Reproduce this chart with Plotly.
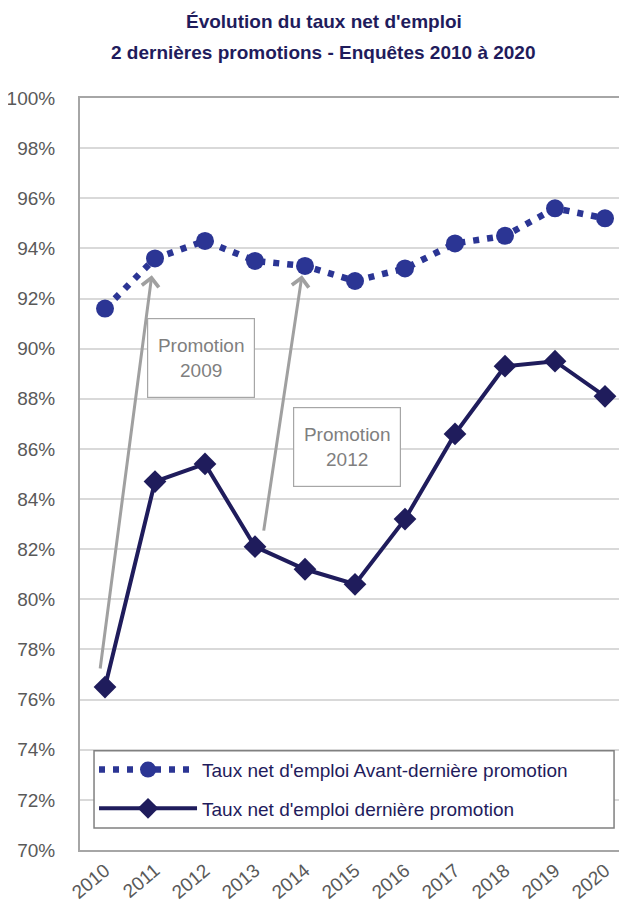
# -*- coding: utf-8 -*-

import plotly.graph_objects as go

##################################################
# data
##################################################

years = [2010, 2011, 2012, 2013, 2014, 2015, 2016, 2017, 2018, 2019, 2020]
avant_derniere = [91.6, 93.6, 94.3, 93.5, 93.3, 92.7, 93.2, 94.2, 94.5, 95.6, 95.2]
derniere = [76.5, 84.7, 85.4, 82.1, 81.2, 80.6, 83.2, 86.6, 89.3, 89.5, 88.1]

name_avant = "Taux net d'emploi Avant-dernière promotion"
name_derniere = "Taux net d'emploi dernière promotion"

title_lines = ["Évolution du taux net d'emploi",
               "2 dernières promotions - Enquêtes 2010 à 2020"]

FONT = "Liberation Sans, Arial, sans-serif"
NAVY = '#1f1c5c'
BLUE = '#2b3594'
GREY_TXT = '#595959'
GREY_ARROW = '#a0a0a0'

##################################################
# figure
##################################################

fig = go.Figure()

fig.add_trace(go.Scatter(
    x=years, y=avant_derniere, name=name_avant, mode='lines+markers',
    legendgroup='a',
    line={'color': BLUE, 'width': 6.5, 'dash': '6px,8px'},
    marker={'symbol': 'circle', 'size': 18, 'color': BLUE},
))

fig.add_trace(go.Scatter(
    x=years, y=derniere, name=name_derniere, mode='lines+markers',
    legendgroup='b',
    line={'color': NAVY, 'width': 4},
    marker={'symbol': 'diamond', 'size': 17.5, 'color': NAVY},
))

# arrows from the last promotion point to the next year's "avant-derniere" point
arrows = [
    {'x': 2010.936, 'y': 92.93, 'ax': 2009.90, 'ay': 77.18},
    {'x': 2013.94, 'y': 92.93, 'ax': 2013.17, 'ay': 82.68},
]
for a in arrows:
    fig.add_annotation(
        x=a['x'], y=a['y'], ax=a['ax'], ay=a['ay'],
        xref='x', yref='y', axref='x', ayref='y',
        text='', showarrow=True, arrowhead=4, arrowsize=1.1,
        arrowwidth=3, arrowcolor=GREY_ARROW,
    )

# label boxes
boxes = [
    {'x': 2011.91, 'y': 89.63, 'text': 'Promotion<br>2009'},
    {'x': 2014.84, 'y': 86.08, 'text': 'Promotion<br>2012'},
]
for b in boxes:
    fig.add_annotation(
        x=b['x'], y=b['y'], xref='x', yref='y', text=b['text'],
        showarrow=False, width=104, height=76, bgcolor='white',
        bordercolor='#a6a6a6', borderwidth=1.2,
        font={'family': FONT, 'size': 19, 'color': '#7f7f7f'},
    )

# two-line title
for txt, ypos in zip(title_lines, [1.1017, 1.0605]):
    fig.add_annotation(
        x=0.4436, y=ypos, xref='paper', yref='paper', text='<b>' + txt + '</b>',
        showarrow=False, xanchor='center', yanchor='middle',
        font={'family': FONT, 'size': 19, 'color': NAVY},
    )

# legend frame (wider than plotly's own legend box)
fig.add_shape(
    type='rect', xref='paper', yref='paper',
    x0=0.0255, x1=0.971, y0=0.0292, y1=0.132,
    line={'color': '#808080', 'width': 1.5}, fillcolor='white', layer='above',
)

fig.update_layout(
    width=627, height=907,
    margin={'l': 72, 'r': 5, 't': 89.5, 'b': 65},
    plot_bgcolor='white', paper_bgcolor='white',
    font={'family': FONT, 'color': GREY_TXT, 'size': 18},
    xaxis={
        'range': [2009.5, 2020.5], 'tickvals': years, 'tickangle': -40,
        'showgrid': False, 'showline': True, 'linecolor': '#a6a6a6',
        'linewidth': 2, 'mirror': True, 'zeroline': False, 'automargin': False,
        'tickfont': {'size': 19, 'color': GREY_TXT},
    },
    yaxis={
        'range': [70, 100], 'dtick': 2, 'ticksuffix': '%',
        'showgrid': True, 'gridcolor': '#d9d9d9', 'gridwidth': 1.5,
        'showline': True, 'linecolor': '#a6a6a6', 'linewidth': 2,
        'zeroline': False, 'ticks': '', 'automargin': False,
        'ticklabelstandoff': 19,
        'tickfont': {'size': 19, 'color': GREY_TXT},
    },
    legend={
        'x': 0.0255, 'y': 0.132, 'xanchor': 'left', 'yanchor': 'top',
        'bgcolor': 'rgba(0,0,0,0)', 'borderwidth': 0,
        'font': {'family': FONT, 'size': 19, 'color': NAVY},
        'itemwidth': 98, 'tracegroupgap': 11,
    },
    showlegend=True,
)

fig.write_html("out.html")
